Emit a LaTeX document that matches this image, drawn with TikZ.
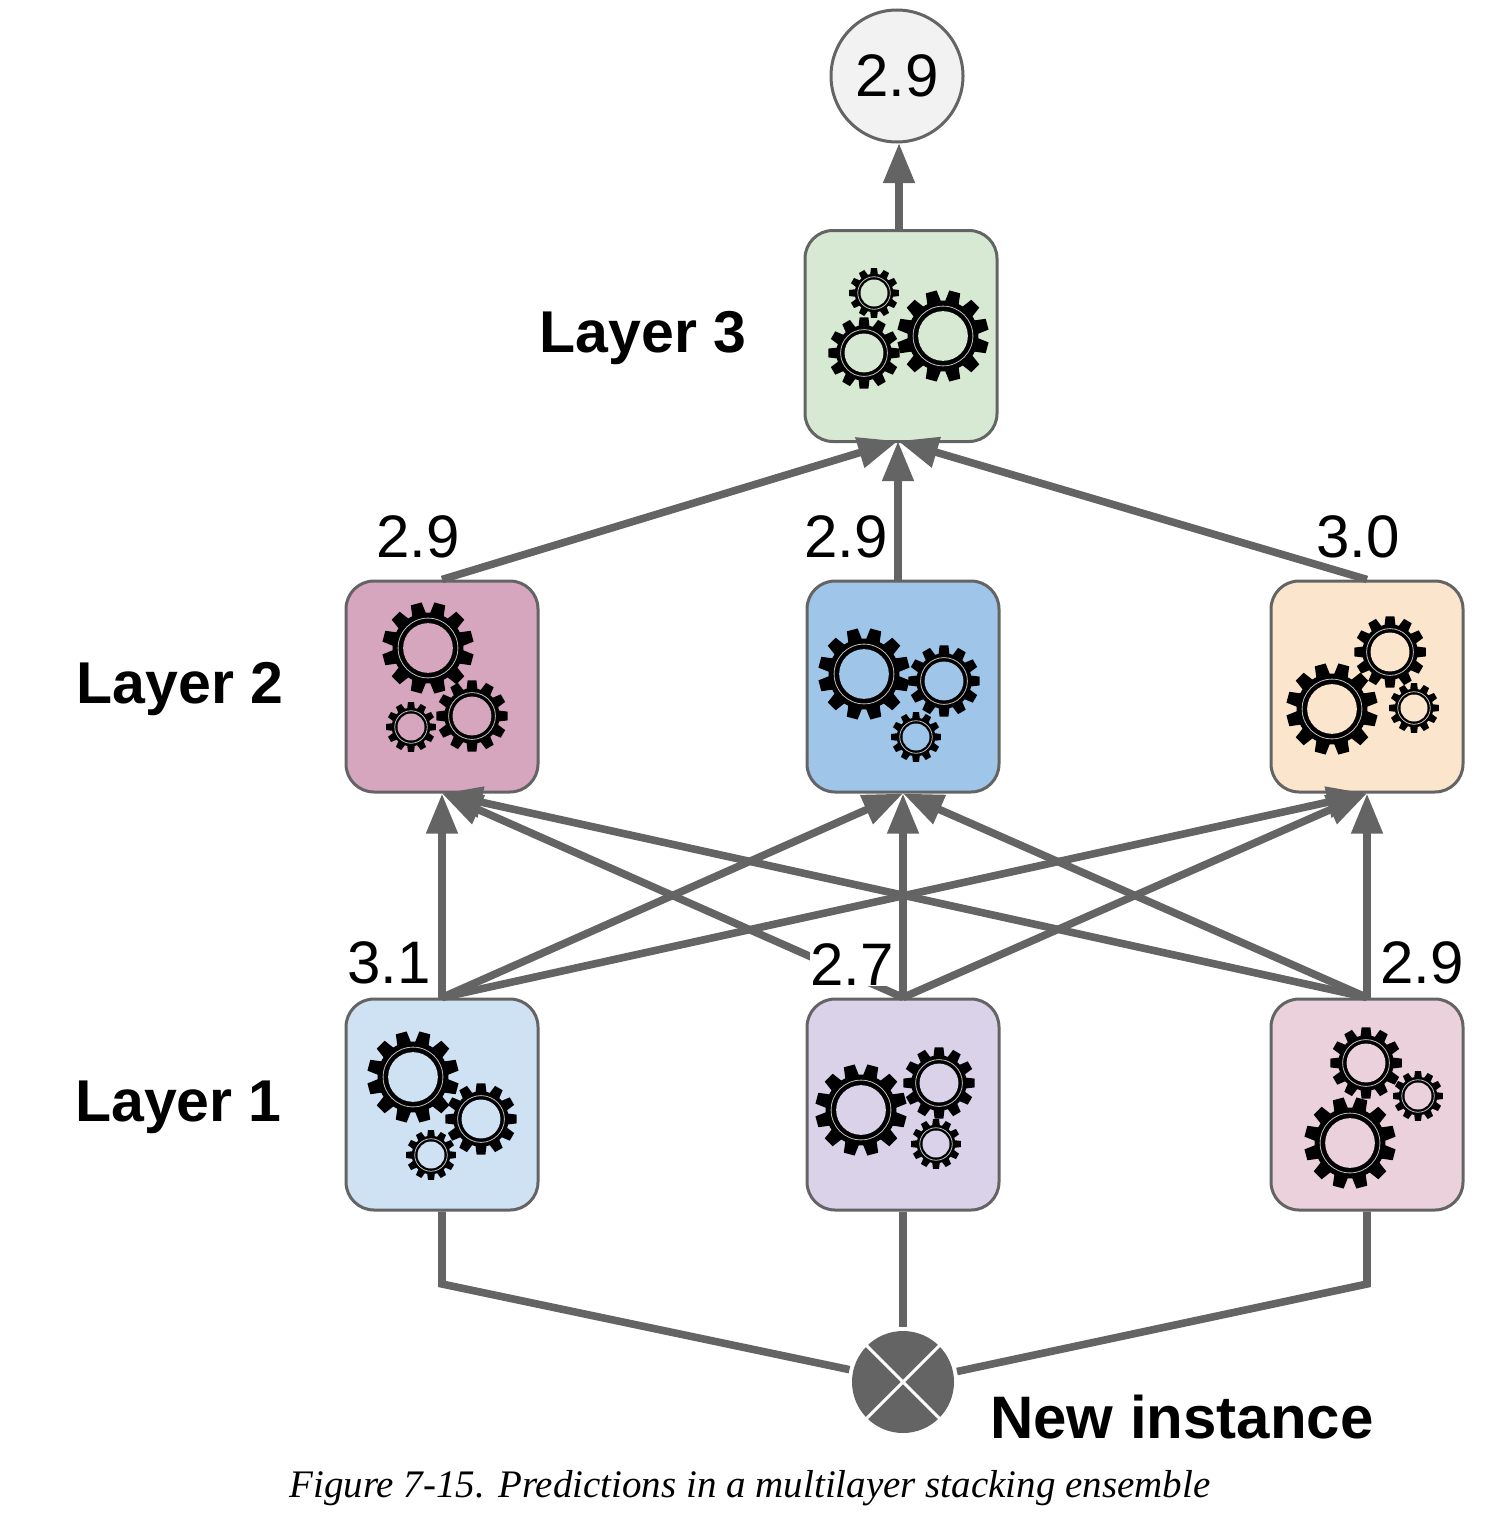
\documentclass[tikz,border=0pt]{standalone}
\usepackage{fontspec}
\setmainfont{Liberation Sans}
\newfontfamily\capfont{Liberation Serif}
\usetikzlibrary{arrows.meta}
\definecolor{cgreen}{HTML}{D7E9D3}
\definecolor{cpink}{HTML}{D5A6BD}
\definecolor{cblue}{HTML}{9FC5E8}
\definecolor{corange}{HTML}{FBE5CD}
\definecolor{clight}{HTML}{CFE2F3}
\definecolor{cpurple}{HTML}{D9D2E9}
\definecolor{crose}{HTML}{EAD1DC}
\definecolor{cline}{HTML}{646464}
\tikzset{
  model/.style={draw=cline, line width=1.5pt, rounded corners=14pt, minimum width=96pt, minimum height=105.5pt, inner sep=0pt},
  link/.style={draw=cline, line width=3.8pt},
  linkto/.style={link, -{Triangle[length=20pt,width=15pt]}},
  score/.style={font=\fontsize{30}{30}\selectfont, text=black, inner sep=0pt},
  layername/.style={font=\fontsize{29.5}{30}\bfseries\selectfont, text=black, inner sep=0pt},
  pics/gear/.style n args={3}{code={
    \foreach \a in {0,30,...,330}
      \fill[black] (\a+#3-12:{0.74*#1}) -- (\a+#3-7:{#1}) -- (\a+#3+7:{#1}) -- (\a+#3+12:{0.74*#1}) -- cycle;
    \fill[black] (0,0) circle ({0.77*#1});
    \draw[white!75!black, line width=0.4pt] (0,0) circle ({0.65*#1});
    \fill[#2] (0,0) circle ({0.54*#1});
  }}
}
\begin{document}
\begin{tikzpicture}[x=0.5pt, y=-0.5pt]
  \useasboundingbox (0,0) rectangle (1496,1520);
  % boxes
  \node[model, fill=cgreen] (l3) at (901,336) {};
  \node[model, fill=cpink] (l2a) at (442,686.5) {};
  \node[model, fill=cblue] (l2b) at (903,686.5) {};
  \node[model, fill=corange] (l2c) at (1367,686.5) {};
  \node[model, fill=clight] (l1a) at (442,1104.5) {};
  \node[model, fill=cpurple] (l1b) at (903,1104.5) {};
  \node[model, fill=crose] (l1c) at (1367,1104.5) {};
  \node[draw=cline, fill=black!5, line width=1.5pt, circle, minimum size=66pt, inner sep=0pt, font=\fontsize{30}{30}\selectfont] (out) at (897,76) {2.9};
  \node[fill=cline, circle, minimum size=51pt, inner sep=0pt, outer sep=2pt] (inst) at (903,1382) {};
  \draw[white, line width=1.5pt] (inst.45) -- (inst.225);
  \draw[white, line width=1.5pt] (inst.135) -- (inst.315);
  \coordinate (l3in) at (898,441);
  \coordinate (l3out) at (899,231);
  \coordinate (outin) at (899,143);
  \coordinate (l2bout) at (898,581);
  \coordinate (benda) at (442,1284);
  \coordinate (bendc) at (1367,1284);
  % gears
  \foreach \x/\y/\r/\o in {874/293/25/0, 864/353/36/0, 943/336/46/15}
    \pic at (\x,\y) {gear={\r}{cgreen}{\o}};
  \foreach \x/\y/\r/\o in {428/648/46/15, 472/716/36/0, 411/727/25/0}
    \pic at (\x,\y) {gear={\r}{cpink}{\o}};
  \foreach \x/\y/\r/\o in {864/674/46/15, 944/681/36/0, 916/737/25/0}
    \pic at (\x,\y) {gear={\r}{cblue}{\o}};
  \foreach \x/\y/\r/\o in {1332/709/46/15, 1390/652/36/0, 1414/708/25/0}
    \pic at (\x,\y) {gear={\r}{corange}{\o}};
  \foreach \x/\y/\r/\o in {413/1077/46/15, 481/1119/36/0, 431/1155/25/0}
    \pic at (\x,\y) {gear={\r}{clight}{\o}};
  \foreach \x/\y/\r/\o in {861/1110/46/15, 939/1083/36/0, 936/1144/25/0}
    \pic at (\x,\y) {gear={\r}{cpurple}{\o}};
  \foreach \x/\y/\r/\o in {1350/1143/46/15, 1366/1063/36/0, 1418/1096/25/0}
    \pic at (\x,\y) {gear={\r}{crose}{\o}};
  % connectors
  \draw[link] (l1a.south) -- (benda) -- (inst.167);
  \draw[link] (l1b.south) -- (inst.north);
  \draw[link] (l1c.south) -- (bendc) -- (inst.11);
  \foreach \s in {l1a,l1b,l1c}
    \foreach \t in {l2a,l2b,l2c}
      \draw[linkto] (\s.north) -- (\t.south);
  \draw[linkto] (l2a.north) -- (l3in);
  \draw[linkto] (l2bout) -- (l3in);
  \draw[linkto] (l2c.north) -- (l3in);
  \draw[linkto] (l3out) -- (outin);
  % scores
  \node[score] (s1a) at (389,963) {3.1};
  \node[score, fill=white, minimum width=41pt] (s1b) at (852,965) {2.7};
  \node[score] (s1c) at (1422,963) {2.9};
  \node[score] (s2a) at (418,537) {2.9};
  \node[score] (s2b) at (846,537) {2.9};
  \node[score] (s2c) at (1358,537) {3.0};
  % layer names
  \node[layername] (n3) at (643,338) {Layer 3};
  \node[layername] (n2) at (180,689) {Layer 2};
  \node[layername] (n1) at (178.5,1107) {Layer 1};
  \node[layername, font=\fontsize{30}{30}\bfseries\selectfont] (ni) at (1182,1417) {New instance};
  \node[inner sep=0pt, font=\capfont\itshape\fontsize{19.5}{20}\selectfont] (cap) at (750,1488) {Figure 7-15. Predictions in a multilayer stacking ensemble};
\end{tikzpicture}
\end{document}
